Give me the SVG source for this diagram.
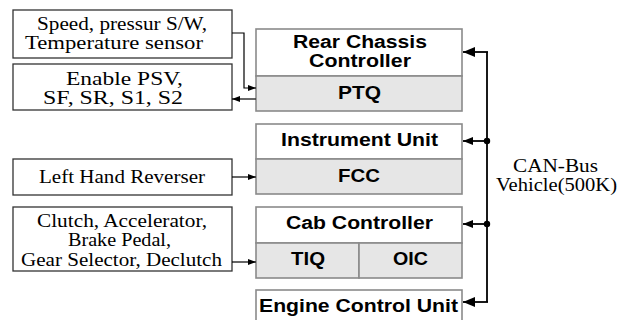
<svg xmlns="http://www.w3.org/2000/svg" width="625" height="320" viewBox="0 0 625 320">
<defs>
<style>
.lb{fill:#fff;stroke:#333;stroke-width:1.3}
.rt{fill:#fff;stroke:#8a8a8a;stroke-width:1.6}
.rb{fill:#e6e6e6;stroke:#8a8a8a;stroke-width:1.6}
.s{font-family:"Liberation Serif","Times New Roman",serif;font-size:18.5px;fill:#000}
.b{font-family:"Liberation Sans",Arial,sans-serif;font-weight:bold;font-size:18px;fill:#000}
.w{fill:none;stroke:#000;stroke-width:1.2}
.bus{fill:none;stroke:#000;stroke-width:1.8}
</style>
<marker id="a" markerWidth="8" markerHeight="6" refX="8" refY="3" orient="auto" markerUnits="userSpaceOnUse"><path d="M0,0 L8,3 L0,6 Z" fill="#000"/></marker>
<marker id="big" markerWidth="12" markerHeight="10" refX="12" refY="5" orient="auto" markerUnits="userSpaceOnUse"><path d="M0,0 L12,5 L0,10 Z" fill="#000"/></marker>
<marker id="med" markerWidth="10" markerHeight="8" refX="10" refY="4" orient="auto" markerUnits="userSpaceOnUse"><path d="M0,0 L10,4 L0,8 Z" fill="#000"/></marker>
</defs>
<rect width="625" height="320" fill="#fff"/>

<g id="in-speed">
<rect class="lb" x="13" y="10" width="219" height="48"/>
<text class="s" x="37" y="30" textLength="170" lengthAdjust="spacingAndGlyphs">Speed, pressur S/W,</text>
<text class="s" x="25" y="48.5" textLength="178" lengthAdjust="spacingAndGlyphs">Temperature sensor</text>
</g>
<g id="out-psv">
<rect class="lb" x="13" y="64" width="219" height="46"/>
<text class="s" x="66" y="84.5" textLength="117" lengthAdjust="spacingAndGlyphs">Enable PSV,</text>
<text class="s" x="43" y="103.5" textLength="140" lengthAdjust="spacingAndGlyphs">SF, SR, S1, S2</text>
</g>
<g id="in-lhr">
<rect class="lb" x="13" y="159" width="219" height="36"/>
<text class="s" x="39" y="183" textLength="166" lengthAdjust="spacingAndGlyphs">Left Hand Reverser</text>
</g>
<g id="in-pedals">
<rect class="lb" x="13" y="207" width="219" height="64"/>
<text class="s" x="37" y="226.7" textLength="170" lengthAdjust="spacingAndGlyphs">Clutch, Accelerator,</text>
<text class="s" x="68" y="246" textLength="103" lengthAdjust="spacingAndGlyphs">Brake Pedal,</text>
<text class="s" x="21" y="265.5" textLength="201" lengthAdjust="spacingAndGlyphs">Gear Selector, Declutch</text>
</g>

<g id="rcc">
<rect class="rt" x="256" y="29" width="206" height="47"/>
<rect class="rb" x="256" y="76" width="206" height="35"/>
<text class="b" x="293" y="48.3" textLength="134" lengthAdjust="spacingAndGlyphs">Rear Chassis</text>
<text class="b" x="309" y="66.7" textLength="102" lengthAdjust="spacingAndGlyphs">Controller</text>
<text class="b" x="338" y="98.7" textLength="43" lengthAdjust="spacingAndGlyphs">PTQ</text>
</g>
<g id="iu">
<rect class="rt" x="256" y="124" width="206" height="35"/>
<rect class="rb" x="256" y="159" width="206" height="35"/>
<text class="b" x="281" y="146" textLength="157" lengthAdjust="spacingAndGlyphs">Instrument Unit</text>
<text class="b" x="338" y="181.7" textLength="42" lengthAdjust="spacingAndGlyphs">FCC</text>
</g>
<g id="cab">
<rect class="rt" x="256" y="207" width="206" height="36"/>
<rect class="rb" x="256" y="243" width="103" height="35"/>
<rect class="rb" x="359" y="243" width="103" height="35"/>
<text class="b" x="286" y="229.3" textLength="147" lengthAdjust="spacingAndGlyphs">Cab Controller</text>
<text class="b" x="291" y="265" textLength="34" lengthAdjust="spacingAndGlyphs">TIQ</text>
<text class="b" x="393" y="265" textLength="35" lengthAdjust="spacingAndGlyphs">OIC</text>
</g>
<g id="ecu">
<rect class="rt" x="256" y="290" width="206" height="40"/>
<text class="b" x="259" y="311.7" textLength="199" lengthAdjust="spacingAndGlyphs">Engine Control Unit</text>
</g>

<g id="connectors">
<polyline class="w" points="232,33 244,33 244,88 256,88" marker-end="url(#a)"/>
<line class="w" x1="256" y1="99" x2="232" y2="99" marker-end="url(#a)"/>
<line class="w" x1="232" y1="177" x2="256" y2="177" marker-end="url(#a)"/>
<line class="w" x1="232" y1="262" x2="256" y2="262" marker-end="url(#a)"/>
<polyline class="bus" points="487,52 487,302"/>
<line class="bus" x1="488" y1="52" x2="463" y2="52" marker-end="url(#big)"/>
<line class="bus" x1="487" y1="141" x2="463" y2="141" marker-end="url(#med)"/>
<line class="bus" x1="487" y1="224" x2="463" y2="224" marker-end="url(#med)"/>
<line class="bus" x1="488" y1="302" x2="463" y2="302" marker-end="url(#big)"/>
<circle cx="487" cy="141" r="3.2" fill="#000"/>
<circle cx="487" cy="224" r="3.2" fill="#000"/>
</g>
<g id="bus-label">
<text class="s" x="513" y="171.7" textLength="85" lengthAdjust="spacingAndGlyphs">CAN-Bus</text>
<text class="s" x="496" y="190.7" textLength="121" lengthAdjust="spacingAndGlyphs">Vehicle(500K)</text>
</g>
</svg>
